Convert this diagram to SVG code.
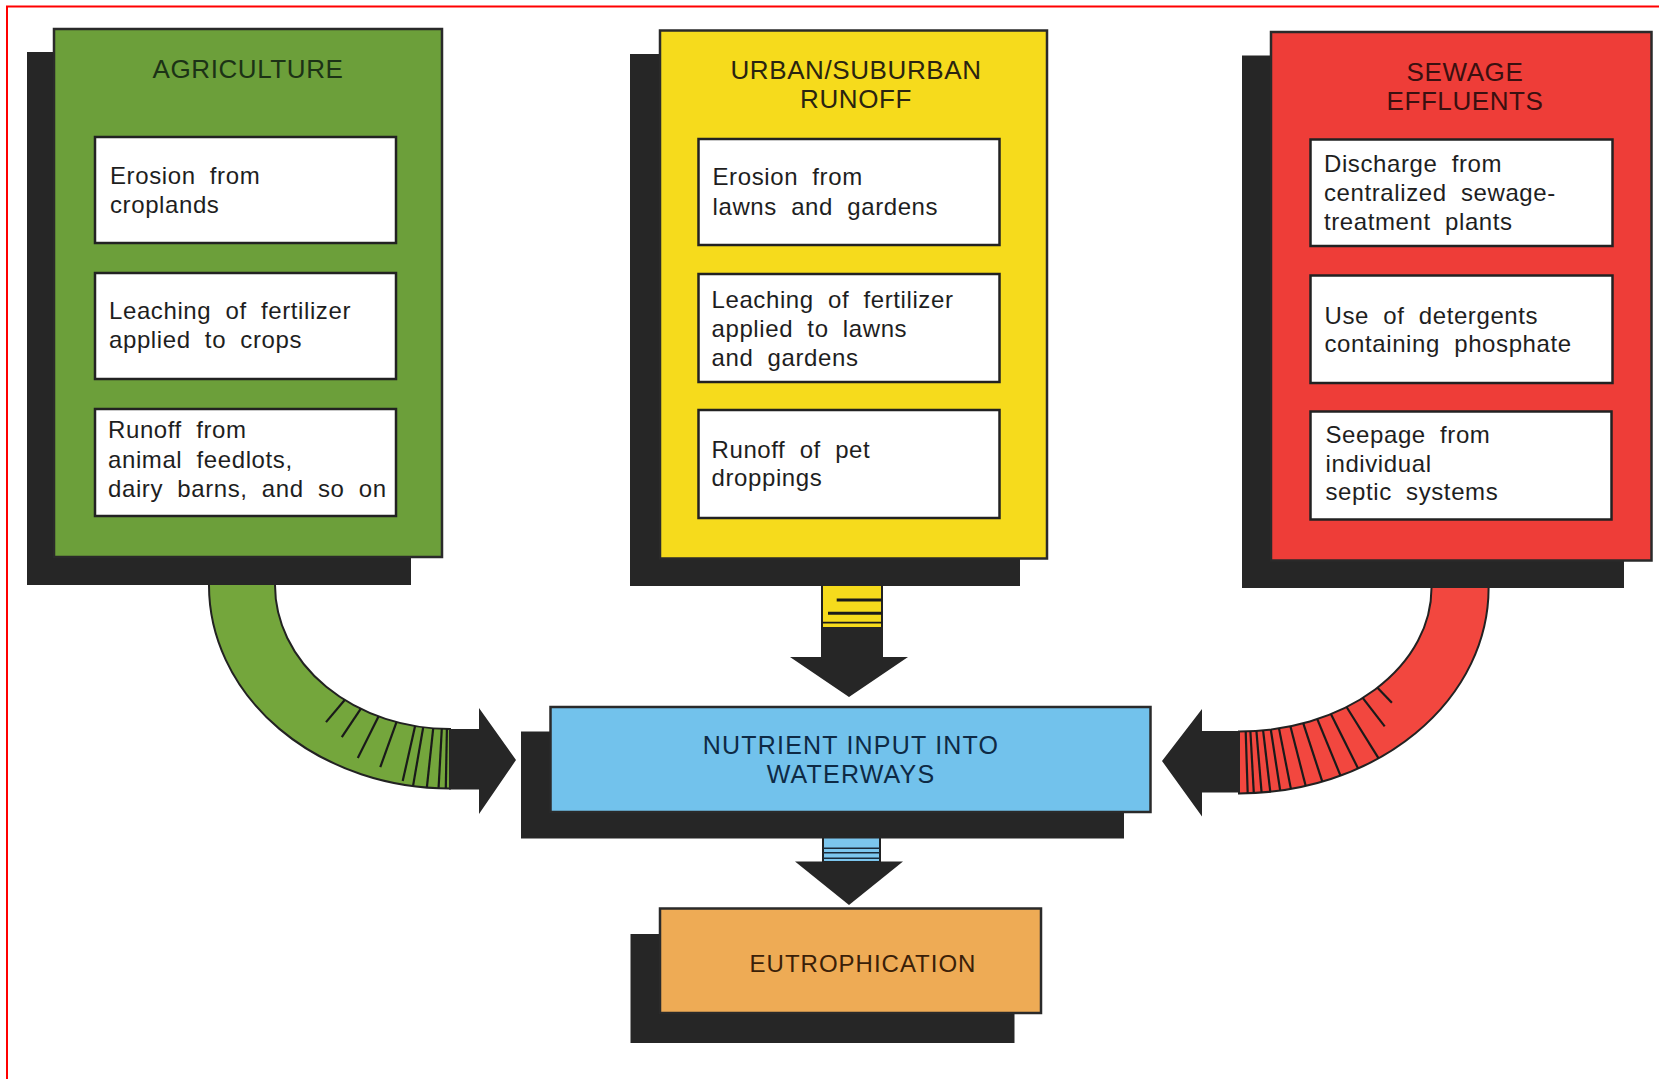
<svg xmlns="http://www.w3.org/2000/svg" width="1659" height="1079" viewBox="0 0 1659 1079">
  <defs>
    <style>
      .shadow { fill: #262626; }
      .panel { stroke: #2a2a2a; stroke-width: 2.5; }
      .item { fill: #ffffff; stroke: #222222; stroke-width: 2.5; }
      .txt { font-family: "Liberation Sans", Arial, Helvetica, sans-serif; font-size: 24px; fill: #1e1e1e; letter-spacing: 0.6px; word-spacing: 7px; }
      .title { font-family: "Liberation Sans", Arial, Helvetica, sans-serif; font-size: 26px; text-anchor: middle; letter-spacing: 0.6px; }
      .big { font-family: "Liberation Sans", Arial, Helvetica, sans-serif; font-size: 25px; text-anchor: middle; letter-spacing: 1.2px; }
      .tick { stroke: #1a1a1a; stroke-width: 2.2; stroke-linecap: butt; }
      .arrowhead { fill: #262626; }
      .edge { stroke: #222222; stroke-width: 2; }
    </style>
  </defs>

  <rect x="0" y="0" width="1659" height="1079" fill="#ffffff"/>
  <rect x="7" y="6.5" width="1700" height="1100" fill="none" stroke="#ff0000" stroke-width="2"/>

  <g id="connectors">
    <!-- Agriculture curved arrow -->
    <g id="edge-agriculture">
      <path d="M209,575 L209,585 A241,203 0 0 0 450,788.5 L450,729 A175,144 0 0 1 275,585 L275,575 Z" fill="#74a63c" class="edge"/>
      <line class="tick" x1="344.7" y1="700" x2="326" y2="722.1"/>
      <line class="tick" x1="360.7" y1="708.8" x2="341.8" y2="737.2"/>
      <line class="tick" x1="378.5" y1="716.4" x2="357.8" y2="757.9"/>
      <line class="tick" x1="396.5" y1="722.1" x2="380.3" y2="767.1"/>
      <line class="tick" x1="415.1" y1="726.1" x2="402.7" y2="781"/>
      <line class="tick" x1="423.2" y1="727.3" x2="413.1" y2="785.6"/>
      <line class="tick" x1="433.2" y1="728.3" x2="426.9" y2="787.1"/>
      <line class="tick" x1="441.8" y1="728.8" x2="438.6" y2="787.8"/>
      <line class="tick" x1="446.9" y1="729" x2="445.8" y2="788"/>
      <path class="arrowhead" d="M449,729 L479,729 L479,708 L516,760 L479,814 L479,789.5 L449,789.5 Z"/>
    </g>

    <!-- Urban/suburban straight arrow -->
    <g id="edge-urban">
      <rect x="822" y="580" width="60" height="48" fill="#f6db1c" class="edge"/>
      <line x1="836.7" y1="600" x2="882" y2="600" stroke="#1a1a1a" stroke-width="3"/>
      <line x1="828" y1="613.3" x2="882" y2="613.3" stroke="#1a1a1a" stroke-width="3"/>
      <line x1="822" y1="622.7" x2="882" y2="622.7" stroke="#1a1a1a" stroke-width="1.8"/>
      <path class="arrowhead" d="M821,627 L883,627 L883,657 L908,657 L849,697 L790,657 L821,657 Z"/>
    </g>

    <!-- Sewage curved arrow -->
    <g id="edge-sewage">
      <path d="M1488.6,578 L1488.6,588 A249.6,205.4 0 0 1 1239,793.4 L1239,731.5 A192.5,143.5 0 0 0 1431.5,588 L1431.5,578 Z" fill="#f2473f" class="edge"/>
      <line class="tick" x1="1377.5" y1="687.7" x2="1391.9" y2="702.8"/>
      <line class="tick" x1="1362.7" y1="697.9" x2="1384.7" y2="726.3"/>
      <line class="tick" x1="1346.6" y1="707" x2="1378.6" y2="758.3"/>
      <line class="tick" x1="1330.9" y1="714.1" x2="1358.1" y2="768.5"/>
      <line class="tick" x1="1317.3" y1="719.1" x2="1340.5" y2="775.6"/>
      <line class="tick" x1="1303.3" y1="723.3" x2="1322.3" y2="781.6"/>
      <line class="tick" x1="1290.4" y1="726.3" x2="1305.7" y2="785.9"/>
      <line class="tick" x1="1279" y1="728.4" x2="1290.9" y2="788.9"/>
      <line class="tick" x1="1270.8" y1="729.5" x2="1280.2" y2="790.6"/>
      <line class="tick" x1="1263.1" y1="730.4" x2="1270.3" y2="791.8"/>
      <line class="tick" x1="1256.4" y1="730.9" x2="1261.6" y2="792.6"/>
      <line class="tick" x1="1250.4" y1="731.2" x2="1253.8" y2="793"/>
      <line class="tick" x1="1245.7" y1="731.4" x2="1247.7" y2="793.3"/>
      <path class="arrowhead" d="M1240,731 L1202,731 L1202,709 L1162,761 L1202,816.5 L1202,792.5 L1240,792.5 Z"/>
    </g>

    <!-- Nutrient -> Eutrophication arrow -->
    <g id="edge-nutrient">
      <rect x="823" y="834" width="57" height="28" fill="#7cc6ee" class="edge"/>
      <line x1="823" y1="848.3" x2="880" y2="848.3" stroke="#1a2a3a" stroke-width="1.5"/>
      <line x1="823" y1="852.7" x2="880" y2="852.7" stroke="#1a2a3a" stroke-width="1.5"/>
      <line x1="823" y1="858.3" x2="880" y2="858.3" stroke="#1a2a3a" stroke-width="1.5"/>
      <path class="arrowhead" d="M795,861.5 L903,861.5 L849,905 Z"/>
    </g>
  </g>

  <!-- AGRICULTURE -->
  <g id="agriculture">
    <rect class="shadow" x="27" y="52" width="384" height="533"/>
    <rect class="panel" x="54" y="29" width="388" height="528" fill="#6c9f3a"/>
    <text class="title" x="248" y="77.7" fill="#1c3216">AGRICULTURE</text>
    <rect class="item" x="95" y="137" width="301" height="106"/>
    <text class="txt" x="110" y="184">Erosion from</text>
    <text class="txt" x="110" y="212.5">croplands</text>
    <rect class="item" x="95" y="273" width="301" height="106"/>
    <text class="txt" x="109" y="319">Leaching of fertilizer</text>
    <text class="txt" x="109" y="348">applied to crops</text>
    <rect class="item" x="95" y="409" width="301" height="107"/>
    <text class="txt" x="108" y="438.4">Runoff from</text>
    <text class="txt" x="108" y="468">animal feedlots,</text>
    <text class="txt" x="108" y="497">dairy barns, and so on</text>
  </g>

  <!-- URBAN/SUBURBAN RUNOFF -->
  <g id="urban">
    <rect class="shadow" x="630" y="54" width="390" height="532"/>
    <rect class="panel" x="660" y="30.5" width="387" height="528" fill="#f6db1c"/>
    <text class="title" x="856" y="79" fill="#2a2410">URBAN/SUBURBAN</text>
    <text class="title" x="856" y="108" fill="#2a2410">RUNOFF</text>
    <rect class="item" x="698.5" y="139" width="301" height="106"/>
    <text class="txt" x="712.5" y="185">Erosion from</text>
    <text class="txt" x="712.5" y="214.5">lawns and gardens</text>
    <rect class="item" x="698.5" y="274" width="301" height="108"/>
    <text class="txt" x="711.5" y="308">Leaching of fertilizer</text>
    <text class="txt" x="711.5" y="337">applied to lawns</text>
    <text class="txt" x="711.5" y="366">and gardens</text>
    <rect class="item" x="698.5" y="410" width="301" height="108"/>
    <text class="txt" x="711.5" y="457.5">Runoff of pet</text>
    <text class="txt" x="711.5" y="486">droppings</text>
  </g>

  <!-- SEWAGE EFFLUENTS -->
  <g id="sewage">
    <rect class="shadow" x="1242" y="55.5" width="382" height="532.5"/>
    <rect class="panel" x="1271" y="32" width="380.5" height="528.5" fill="#ee3d38"/>
    <text class="title" x="1465" y="80.7" fill="#3a1010">SEWAGE</text>
    <text class="title" x="1465" y="109.5" fill="#3a1010">EFFLUENTS</text>
    <rect class="item" x="1310.5" y="139.5" width="302" height="106.5"/>
    <text class="txt" x="1324" y="172">Discharge from</text>
    <text class="txt" x="1324" y="201">centralized sewage-</text>
    <text class="txt" x="1324" y="229.5">treatment plants</text>
    <rect class="item" x="1310.5" y="275.5" width="302" height="107.5"/>
    <text class="txt" x="1324.5" y="324">Use of detergents</text>
    <text class="txt" x="1324.5" y="352">containing phosphate</text>
    <rect class="item" x="1310.5" y="411.5" width="301" height="108"/>
    <text class="txt" x="1325.5" y="443">Seepage from</text>
    <text class="txt" x="1325.5" y="472">individual</text>
    <text class="txt" x="1325.5" y="500">septic systems</text>
  </g>

  <!-- NUTRIENT INPUT INTO WATERWAYS -->
  <g id="nutrient">
    <rect class="shadow" x="521" y="731.5" width="603" height="107"/>
    <rect class="panel" x="550.5" y="707" width="600" height="105" fill="#72c2ec"/>
    <text class="big" x="851" y="753.6" fill="#0e2a45">NUTRIENT INPUT INTO</text>
    <text class="big" x="851" y="783.4" fill="#0e2a45">WATERWAYS</text>
  </g>

  <!-- EUTROPHICATION -->
  <g id="eutrophication">
    <rect class="shadow" x="630.5" y="934" width="384" height="109"/>
    <rect class="panel" x="660" y="908.5" width="381" height="104.5" fill="#eeab55"/>
    <text class="big" x="863" y="972" fill="#3a2008" style="font-size:24px;letter-spacing:1px">EUTROPHICATION</text>
  </g>
</svg>
